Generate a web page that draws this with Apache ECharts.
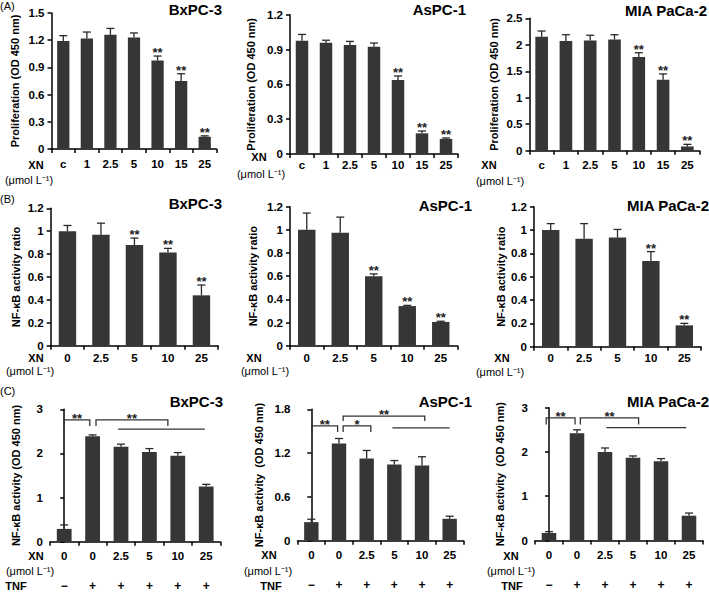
<!DOCTYPE html>
<html><head><meta charset="utf-8">
<script src="https://cdn.jsdelivr.net/npm/echarts@6/dist/echarts.min.js"></script>
<style>html,body{margin:0;padding:0;background:#fff}#c{width:709px;height:593px}</style>
</head><body><div id="c"></div>
<script>
// ---------- categories ----------
const doseA = ['c', '1', '2.5', '5', '10', '15', '25'];
const doseB = ['0', '2.5', '5', '10', '25'];
const doseC = ['0', '0', '2.5', '5', '10', '25'];
const tnfC = ['\u2212', '+', '+', '+', '+', '+'];
const cellLines = ['BxPC-3', 'AsPC-1', 'MIA PaCa-2'];

// ---------- (A) proliferation ----------
const profBx = [1.19, 1.22, 1.26, 1.23, 0.975, 0.75, 0.135];
const profBxErr = [0.06, 0.07, 0.07, 0.05, 0.05, 0.08, 0.01];
const profBxSig = ['', '', '', '', '**', '**', '**'];
const profAs = [0.975, 0.958, 0.94, 0.924, 0.637, 0.178, 0.13];
const profAsErr = [0.055, 0.022, 0.03, 0.032, 0.035, 0.02, 0.008];
const profAsSig = ['', '', '', '', '**', '**', '**'];
const profMia = [2.15, 2.07, 2.08, 2.1, 1.77, 1.34, 0.08];
const profMiaErr = [0.11, 0.12, 0.1, 0.09, 0.08, 0.11, 0.04];
const profMiaSig = ['', '', '', '', '**', '**', '**'];

// ---------- (B) NF-kB activity ratio ----------
const ratioBx = [1.0, 0.97, 0.88, 0.815, 0.44];
const ratioBxErr = [0.05, 0.1, 0.06, 0.035, 0.09];
const ratioBxSig = ['', '', '**', '**', '**'];
const ratioAs = [1.0, 0.975, 0.6, 0.342, 0.205];
const ratioAsErr = [0.145, 0.135, 0.02, 0.006, 0.006];
const ratioAsSig = ['', '', '**', '**', '**'];
const ratioMia = [1.0, 0.925, 0.935, 0.735, 0.183];
const ratioMiaErr = [0.055, 0.13, 0.07, 0.08, 0.017];
const ratioMiaSig = ['', '', '', '**', '**'];

// ---------- (C) NF-kB activity with TNF ----------
const actBx = [0.29, 2.39, 2.15, 2.03, 1.95, 1.25];
const actBxErr = [0.09, 0.03, 0.06, 0.08, 0.07, 0.05];
const actAs = [0.254, 1.33, 1.126, 1.043, 1.03, 0.3];
const actAsErr = [0.04, 0.07, 0.11, 0.055, 0.12, 0.035];
const actMia = [0.17, 2.42, 2.0, 1.87, 1.79, 0.56];
const actMiaErr = [0.03, 0.08, 0.09, 0.04, 0.06, 0.06];

// brackets: [fromIndex, toIndex, level, endLevel]
const brkBx = [[0, 0.9, 2.76, 2.62], [1.12, 3.65, 2.76, 2.62], [1.9, 4.95, 2.55, 2.55]];
const brkBxSig = ['**', '**', ''];
const brkAs = [[0.02, 0.95, 1.574, 1.49], [1.15, 4.1, 1.707, 1.64], [1.15, 2.15, 1.574, 1.49], [2.93, 5.0, 1.546, 1.546]];
const brkAsSig = ['**', '**', '*', ''];
const brkMia = [[-0.1, 0.93, 2.77, 2.62], [1.12, 3.2, 2.77, 2.62], [2.05, 4.9, 2.55, 2.55]];
const brkMiaSig = ['**', '**', ''];

// y-axis ranges [min, max, interval]
const yA = [[0, 1.5, 0.3], [0, 1.2, 0.3], [0, 2.5, 0.5]];
const yB = [[0, 1.2, 0.2], [0, 1.2, 0.2], [0, 1.2, 0.2]];
const yC = [[0, 3, 1], [0, 1.8, 0.6], [0, 3, 1]];

// ---------- layout ----------
const FONT = '"Liberation Sans", Arial, sans-serif';
const BAR = '#363636';
const panels = [
  {grid: {left: 51.5, top: 13, width: 165, height: 136}, m: 9, cats: doseA, vals: profBx, errs: profBxErr, sig: profBxSig, y: yA[0], name: 'Proliferation (OD 450 nm)', nameX: 14},
  {grid: {left: 290, top: 14.7, width: 168, height: 139.3}, m: 5, cats: doseA, vals: profAs, errs: profAsErr, sig: profAsSig, y: yA[1], name: 'Proliferation (OD 450 nm)', nameX: 250},
  {grid: {left: 529.5, top: 18.3, width: 170, height: 132.4}, m: 8, cats: doseA, vals: profMia, errs: profMiaErr, sig: profMiaSig, y: yA[2], name: 'Proliferation (OD 450 nm)', nameX: 493},
  {grid: {left: 50.7, top: 208.3, width: 167.5, height: 137.4}, m: 6, cats: doseB, vals: ratioBx, errs: ratioBxErr, sig: ratioBxSig, y: yB[0], name: 'NF-\u03baB activity ratio', nameX: 15},
  {grid: {left: 290, top: 206.7, width: 167.5, height: 139}, m: 6, cats: doseB, vals: ratioAs, errs: ratioAsErr, sig: ratioAsSig, y: yB[1], name: 'NF-\u03baB activity ratio', nameX: 252},
  {grid: {left: 534, top: 206.7, width: 167, height: 140}, m: 5, cats: doseB, vals: ratioMia, errs: ratioMiaErr, sig: ratioMiaSig, y: yB[2], name: 'NF-\u03baB activity ratio', nameX: 500},
  {grid: {left: 50, top: 409.3, width: 170.4, height: 132.4}, m: 8, cats: doseC, vals: actBx, errs: actBxErr, y: yC[0], name: 'NF-\u03baB activity (OD 450 nm)', nameX: 15, brk: brkBx, brkSig: brkBxSig, tnf: true},
  {grid: {left: 297.5, top: 409.3, width: 166, height: 131.4}, m: 8, cats: doseC, vals: actAs, errs: actAsErr, y: yC[1], name: 'NF-\u03baB activity  (OD 450 nm)', nameX: 258, brk: brkAs, brkSig: brkAsSig, tnf: true},
  {grid: {left: 535, top: 407.7, width: 168, height: 132.8}, m: 8, cats: doseC, vals: actMia, errs: actMiaErr, y: yC[2], name: 'NF-\u03baB activity  (OD 450 nm)', nameX: 499, brk: brkMia, brkSig: brkMiaSig, tnf: true}
];

const grids = [], xAxes = [], yAxes = [], series = [];
const axisLineStyle = {color: '#000', width: 1.5};

function errRender(vals, errs, sigs) {
  return function (params, api) {
    const i = params.dataIndex;
    const p0 = api.coord([i, vals[i]]);
    const p1 = api.coord([i, vals[i] + errs[i]]);
    const cap = 4;
    const st = {stroke: '#2a2a2a', lineWidth: 1.3};
    const ch = [
      {type: 'line', shape: {x1: p0[0], y1: p0[1], x2: p1[0], y2: p1[1]}, style: st},
      {type: 'line', shape: {x1: p1[0] - cap, y1: p1[1], x2: p1[0] + cap, y2: p1[1]}, style: st}
    ];
    if (sigs && sigs[i]) {
      ch.push({type: 'text', x: p1[0], y: p1[1] + 3, style: {text: sigs[i], align: 'center', verticalAlign: 'bottom', font: 'bold 13px ' + FONT, fill: '#222'}});
    }
    return {type: 'group', children: ch};
  };
}

function brkRender(brk, sigs) {
  return function (params, api) {
    const b = brk[params.dataIndex];
    const a = api.coord([b[0], b[3]]);
    const c = api.coord([b[0], b[2]]);
    const d = api.coord([b[1], b[2]]);
    const e = api.coord([b[1], b[3]]);
    const ch = [{type: 'polyline', shape: {points: [a, c, d, e]}, style: {stroke: '#333', lineWidth: 1.3, fill: null}}];
    if (sigs[params.dataIndex]) {
      ch.push({type: 'text', x: (c[0] + d[0]) / 2, y: c[1] + 5, style: {text: sigs[params.dataIndex], align: 'center', verticalAlign: 'bottom', font: 'bold 13px ' + FONT, fill: '#222'}});
    }
    return {type: 'group', children: ch};
  };
}

panels.forEach((p, g) => {
  grids.push(Object.assign({containLabel: false}, p.grid));
  const xi = xAxes.length;
  xAxes.push({
    type: 'category', gridIndex: g, data: p.cats,
    axisLine: {lineStyle: axisLineStyle},
    axisTick: {show: true, length: 4, lineStyle: axisLineStyle},
    axisLabel: {color: '#000', fontWeight: 'bold', fontSize: 11.5, fontFamily: FONT, margin: p.m, interval: 0}
  });
  yAxes.push({
    type: 'value', gridIndex: g, min: p.y[0], max: p.y[1], interval: p.y[2],
    name: p.name, nameLocation: 'middle', nameRotate: 90, nameGap: p.grid.left - p.nameX - 6,
    nameTextStyle: {color: '#000', fontWeight: 'bold', fontSize: 11, fontFamily: FONT},
    axisLine: {show: true, lineStyle: axisLineStyle},
    axisTick: {show: true, length: 4, lineStyle: axisLineStyle},
    splitLine: {show: false},
    axisLabel: {color: '#000', fontWeight: 'bold', fontSize: 11.5, fontFamily: FONT, margin: 7}
  });
  series.push({
    type: 'bar', xAxisIndex: xi, yAxisIndex: g, data: p.vals, barWidth: '52%',
    itemStyle: {color: BAR}, silent: true, animation: false
  });
  series.push({
    type: 'custom', xAxisIndex: xi, yAxisIndex: g,
    data: p.vals.map((v, i) => [i, v + p.errs[i]]),
    renderItem: errRender(p.vals, p.errs, p.sig), silent: true, animation: false, z: 3
  });
  if (p.tnf) {
    xAxes.push({
      type: 'category', gridIndex: g, data: tnfC, position: 'bottom', offset: 30,
      axisLine: {show: false}, axisTick: {show: false},
      axisLabel: {color: '#000', fontWeight: 'bold', fontSize: 12, fontFamily: FONT, margin: p.m, interval: 0}
    });
    const bi = xAxes.length;
    xAxes.push({type: 'value', gridIndex: g, min: -0.5, max: p.cats.length - 0.5, show: false});
    series.push({
      type: 'custom', xAxisIndex: bi, yAxisIndex: g,
      data: p.brk.map(b => [b[0], b[1], b[2], b[3]]),
      renderItem: brkRender(p.brk, p.brkSig), silent: true, animation: false, z: 4
    });
  }
});

function txt(x, y, s, opt) {
  return Object.assign({type: 'text', x: x, y: y, style: Object.assign({text: s, fill: '#000', font: 'bold 11px ' + FONT, align: 'center', verticalAlign: 'middle'}, opt || {})}, {silent: true});
}
const titleFont = 'bold 15px ' + FONT;
const unitFont = '11px ' + FONT;
const unit = '(\u03bcmol L\u207b\u00b9)';
const graphics = [
  txt(0, 6, '(A)', {align: 'left', font: '11px ' + FONT}),
  txt(0, 199, '(B)', {align: 'left', font: '11px ' + FONT}),
  txt(0, 391, '(C)', {align: 'left', font: '11px ' + FONT}),
  // titles
  txt(222, 9, cellLines[0], {align: 'right', font: titleFont}),
  txt(466, 9, cellLines[1], {align: 'right', font: titleFont}),
  txt(707, 10, cellLines[2], {align: 'right', font: titleFont}),
  txt(222, 203, cellLines[0], {align: 'right', font: titleFont}),
  txt(472, 205, cellLines[1], {align: 'right', font: titleFont}),
  txt(709, 205, cellLines[2], {align: 'right', font: titleFont}),
  txt(223, 401, cellLines[0], {align: 'right', font: titleFont}),
  txt(472, 401, cellLines[1], {align: 'right', font: titleFont}),
  txt(709, 401, cellLines[2], {align: 'right', font: titleFont}),
  // XN labels
  txt(36, 165, 'XN'), txt(29, 180, unit, {font: unitFont}),
  txt(259, 157, 'XN'), txt(261, 174, unit, {font: unitFont}),
  txt(489, 165, 'XN'), txt(500, 181, unit, {font: unitFont}),
  txt(36, 358, 'XN'), txt(30, 371, unit, {font: unitFont}),
  txt(254, 358, 'XN'), txt(265, 371, unit, {font: unitFont}),
  txt(502, 358, 'XN'), txt(500, 372, unit, {font: unitFont}),
  txt(36, 556, 'XN'), txt(30, 571, unit, {font: unitFont}),
  txt(269, 555, 'XN'), txt(268, 571, unit, {font: unitFont}),
  txt(511, 556, 'XN'), txt(511, 571, unit, {font: unitFont}),
  txt(16, 585.5, 'TNF'), txt(271, 585.5, 'TNF'), txt(512, 585.5, 'TNF')
];

const chart = echarts.init(document.getElementById('c'), null, {renderer: 'svg'});
chart.setOption({
  animation: false,
  backgroundColor: '#fff',
  grid: grids, xAxis: xAxes, yAxis: yAxes, series: series,
  graphic: graphics
});
</script></body></html>
